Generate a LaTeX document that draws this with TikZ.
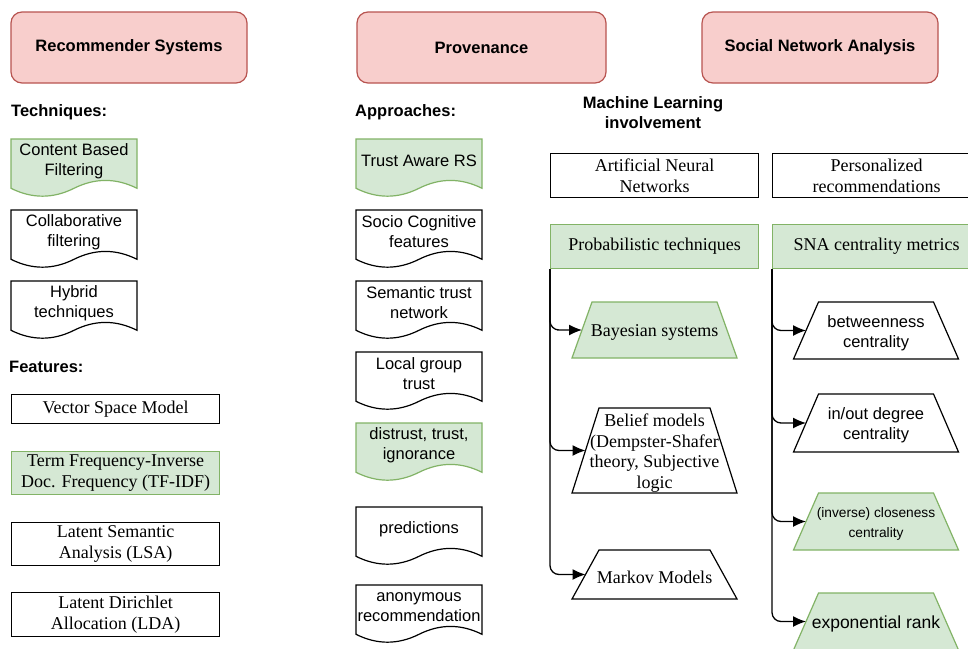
\documentclass[tikz,border=0pt]{standalone}
\usepackage{fontspec}
\setmainfont{Liberation Serif}
\setsansfont{Liberation Sans}
\usepackage{tikz}
\usetikzlibrary{arrows.meta}

\definecolor{pinkfill}{HTML}{F8CECC}
\definecolor{pinkline}{HTML}{B85450}
\definecolor{greenfill}{HTML}{D5E8D4}
\definecolor{greenline}{HTML}{82B366}

\newcommand{\sanstext}{\sffamily\fontsize{16.5}{20}\selectfont}
\newcommand{\seriftext}{\rmfamily\fontsize{18}{20.5}\selectfont}
\newcommand{\smalltext}{\sffamily\fontsize{13.75}{20}\selectfont}
\newcommand{\bigtext}{\sffamily\fontsize{17.5}{20}\selectfont}

\begin{document}
\begin{tikzpicture}[x=1pt, y=-1pt,
    header/.style={draw=pinkline, fill=pinkfill, line width=1.2pt, rounded corners=11pt,
        minimum height=71pt, font=\sanstext\bfseries},
    heading/.style={anchor=west, inner sep=0pt, font=\sanstext\bfseries},
    plainshape/.style={draw=black, fill=white, line width=1.2pt},
    greenshape/.style={draw=greenline, fill=greenfill, line width=1.2pt},
    textbox/.style={minimum width=208pt, inner sep=0pt, align=center, font=\seriftext, anchor=north west},
    doctext/.style={align=center, inner sep=0pt, font=\sanstext},
    trapbox/.style={inner sep=0pt, align=center},
    link/.style={-{Latex[length=13pt,width=11pt]}, line width=1.3pt}
]
    \useasboundingbox (0,0) rectangle (968,648);
    \clip (0,0) rectangle (968,648);
    \fill[white] (0,0) rectangle (968,648);

    % Headers
    \node[header, minimum width=236pt] (rs) at (129,47.5) {Recommender Systems};
    \node[header, minimum width=249pt] (prov) at (481.5,47.5) {Provenance};
    \node[header, minimum width=236pt] (sna) at (820,47.5) {Social Network Analysis};

    % Section titles
    \node[heading] (tech) at (11,112) {Techniques:};
    \node[heading] (feat) at (9,367) {Features:};
    \node[heading] (appr) at (355,112) {Approaches:};
    \node[heading, anchor=center, align=center] (ml) at (653,113) {Machine Learning\\involvement};

    % Document shapes
    \foreach \x/\y/\st/\name/\txt in {
        11/139/greenshape/cbf/{Content Based\\Filtering},
        11/210/plainshape/colf/{Collaborative\\filtering},
        11/281/plainshape/hyb/{Hybrid\\techniques},
        356/139/greenshape/tars/{Trust Aware RS},
        356/210/plainshape/socio/{Socio Cognitive\\features},
        356/281/plainshape/sem/{Semantic trust\\network},
        356/352/plainshape/local/{Local group\\trust},
        356/423/greenshape/dti/{distrust, trust,\\ignorance},
        356/507/plainshape/pred/{predictions},
        356/585/plainshape/anon/{anonymous\\recommendation}} {
        \begin{scope}[shift={(\x,\y)}]
            \path[\st] (0,0) -- (126,0) -- (126,49.3)
                .. controls (105,38.8) and (84,38.8) .. (63,49.3)
                .. controls (42,59.8) and (21,59.8) .. (0,49.3) -- cycle;
            \node[doctext] (\name) at (63,22) {\txt};
        \end{scope}
    }

    % Features
    \foreach \y/\h/\st/\name/\txt in {
        394/29/plainshape/vsm/{Vector Space Model},
        451/43/greenshape/tfidf/{Term Frequency-Inverse\\Doc. Frequency (TF-IDF)},
        522/43/plainshape/lsa/{Latent Semantic\\Analysis (LSA)},
        592/44/plainshape/lda/{Latent Dirichlet\\Allocation (LDA)}} {
        \node[textbox, \st, minimum height=\h pt] (\name) at (11,\y) {\txt};
    }

    % Machine learning boxes
    \node[textbox, plainshape, minimum height=44pt] (ann) at (550,153) {Artificial Neural\\Networks};
    \node[textbox, plainshape, minimum height=44pt] (pers) at (772,153) {Personalized\\recommendations};
    \node[textbox, greenshape, minimum height=44pt] (prob) at (550,224) {Probabilistic techniques};
    \node[textbox, greenshape, minimum height=44pt] (snam) at (772,224) {SNA centrality metrics};

    % Trapezoids
    \foreach \x/\y/\h/\d/\st/\f/\name/\txt in {
        654.5/302/56/20/greenshape/\seriftext/bay/{Bayesian systems},
        654.5/408/85/27/plainshape/\seriftext/bel/{Belief models\\(Dempster-Shafer\\theory, Subjective\\logic},
        654.5/550/49/27/plainshape/\seriftext/mar/{Markov Models},
        876/302/57/25/plainshape/\sanstext/btw/{betweenness\\centrality},
        876/394/58/25/plainshape/\sanstext/deg/{in/out degree\\centrality},
        876/493/57/25/greenshape/\smalltext/clo/{(inverse) closeness\\centrality},
        876/593/57/25/greenshape/\bigtext/exr/{exponential rank}} {
        \path[\st] (\x-82.5,\y+\h) -- (\x-82.5+\d,\y) -- (\x+82.5-\d,\y) -- (\x+82.5,\y+\h) -- cycle;
        \node[trapbox, font=\f] (\name) at (\x,\y+\h/2+2.5) {\txt};
        \coordinate (\name-in) at (\x-82.5+\d/2,\y+\h/2);
        \coordinate (\name-pre) at (\x-98.5+\d/2,\y+\h/2);
    }

    % Connectors
    \foreach \t in {bay,bel,mar}
        \draw[link] (prob.south west) [rounded corners=9pt] |- (\t-pre) [sharp corners] -- (\t-in);
    \foreach \t in {btw,deg,clo,exr}
        \draw[link] (snam.south west) [rounded corners=9pt] |- (\t-pre) [sharp corners] -- (\t-in);
\end{tikzpicture}
\end{document}
